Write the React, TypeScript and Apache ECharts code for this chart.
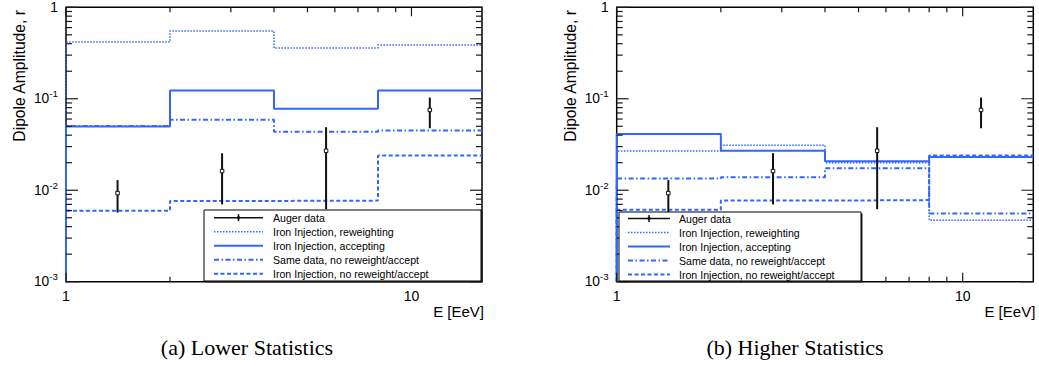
import React, { useEffect, useRef } from "react";
import * as echarts from "echarts";

// ---------- data ----------
const binEdges = [1, 2, 4, 8, 16];
const seriesNames = [
  "Auger data",
  "Iron Injection, reweighting",
  "Iron Injection, accepting",
  "Same data, no reweight/accept",
  "Iron Injection, no reweight/accept",
];

const augerEnergy = [1.41, 2.83, 5.66, 11.3];
const augerAmp = [0.0093, 0.0162, 0.027, 0.0755];
const augerLow = [0.0057, 0.007, 0.0062, 0.0476];
const augerHigh = [0.0129, 0.0254, 0.0489, 0.103];

// (a) Lower statistics
const lowReweight = [0.418, 0.55, 0.359, 0.387];
const lowAccept = [0.0496, 0.123, 0.078, 0.123];
const lowSameData = [0.0505, 0.059, 0.0437, 0.0449];
const lowNoReweight = [0.00598, 0.00764, 0.0077, 0.0239];

// (b) Higher statistics
const highReweight = [0.0269, 0.031, 0.02, 0.0047];
const highAccept = [0.0412, 0.0271, 0.0207, 0.0231];
const highSameData = [0.0134, 0.0139, 0.0174, 0.00555];
const highNoReweight = [0.0061, 0.0077, 0.0078, 0.0239];

// axis ranges / ticks
const X_MIN = 1;
const X_MAX = 16;
const Y_MIN = 0.001;
const Y_MAX = 1;
const xMajorTicks = [1, 10];
const xMinorTicks = [2, 3, 4, 5, 6, 7, 8, 9];
const yMajorTicks = [0.001, 0.01, 0.1, 1];
const yMinorTicks = [
  0.002, 0.003, 0.004, 0.005, 0.006, 0.007, 0.008, 0.009,
  0.02, 0.03, 0.04, 0.05, 0.06, 0.07, 0.08, 0.09,
  0.2, 0.3, 0.4, 0.5, 0.6, 0.7, 0.8, 0.9,
];
const xLabelValues = [1, 10];
const captions = ["(a) Lower Statistics", "(b) Higher Statistics"];
const yTitle = "Dipole Amplitude, r";
const xTitle = "E [EeV]";

// ---------- styles ----------
const BLUE = "#3366ff";
const TICK = "#1a1a1a";
const SANS = "'Liberation Sans', Arial, Helvetica, sans-serif";
const SERIF = "'Liberation Serif', 'DejaVu Serif', serif";

const histStyles: any[] = [
  { type: [1.5, 1.5], width: 1.5 },
  { type: "solid", width: 2 },
  { type: [5, 2.5, 1.5, 2.5], width: 2 },
  { type: [4, 2.5], width: 2 },
];

const panels = [
  {
    left: 66,
    width: 416,
    hist: [lowReweight, lowAccept, lowSameData, lowNoReweight],
    legend: { x: 204, y: 210, w: 277, h: 71, l0: 214, l1: 263, tx: 273, ry: 217.7 },
    yTitleX: 19,
    captionX: 247,
  },
  {
    left: 616.7,
    width: 416.6,
    hist: [highReweight, highAccept, highSameData, highNoReweight],
    legend: { x: 619, y: 212, w: 242, h: 69, l0: 628, l1: 670, tx: 679, ry: 218.5 },
    yTitleX: 570,
    captionX: 795,
  },
];
const GRID_TOP = 7.3;
const GRID_H = 274.4;

function stepData(values: number[]) {
  const pts: number[][] = [[binEdges[0], Y_MIN]];
  values.forEach((v, i) => pts.push([binEdges[i], v]));
  pts.push([binEdges[binEdges.length - 1], values[values.length - 1]]);
  return pts;
}

function buildOption() {
  const grid: any[] = [];
  const xAxis: any[] = [];
  const yAxis: any[] = [];
  const series: any[] = [];

  panels.forEach((p, gi) => {
    grid.push({
      left: p.left,
      top: GRID_TOP,
      width: p.width,
      height: GRID_H,
      show: true,
      borderColor: "#000",
      borderWidth: 1.5,
      backgroundColor: "#fff",
    });
    xAxis.push({
      type: "log",
      logBase: 10,
      gridIndex: gi,
      min: X_MIN,
      max: X_MAX,
      axisLine: { show: false },
      axisTick: { show: false },
      splitLine: { show: false },
      minorTick: { show: false },
      axisLabel: {
        show: true,
        margin: 7,
        fontSize: 14,
        fontFamily: SANS,
        color: "#000",
        formatter: (v: number) => {
          const hit = xLabelValues.find((t) => Math.abs(t - v) < 1e-6 * t);
          return hit !== undefined ? String(hit) : "";
        },
      },
    });
    yAxis.push({
      type: "log",
      logBase: 10,
      gridIndex: gi,
      min: Y_MIN,
      max: Y_MAX,
      axisLine: { show: false },
      axisTick: { show: false },
      splitLine: { show: false },
      minorTick: { show: false },
      axisLabel: {
        show: true,
        margin: 8,
        color: "#000",
        formatter: (v: number) => {
          const lg = Math.log10(v);
          const e = Math.round(lg);
          if (Math.abs(lg - e) > 1e-6) return "";
          if (e === 0) return "{m|1}";
          return "{m|10}{s|" + e + "}";
        },
        rich: {
          m: { fontSize: 13.8, fontFamily: SANS, color: "#000", lineHeight: 20 },
          s: { fontSize: 9.8, fontFamily: SANS, color: "#000", verticalAlign: "top" },
        },
      },
    });

    // histograms
    p.hist.forEach((vals, k) => {
      series.push({
        type: "line",
        name: seriesNames[k + 1],
        xAxisIndex: gi,
        yAxisIndex: gi,
        step: "end",
        symbol: "none",
        data: stepData(vals),
        lineStyle: { color: BLUE, width: histStyles[k].width, type: histStyles[k].type },
        z: 3,
      });
    });

    // Auger data with error bars
    series.push({
      type: "custom",
      name: seriesNames[0],
      xAxisIndex: gi,
      yAxisIndex: gi,
      encode: { x: 0, y: 1 },
      data: augerEnergy.map((e, i) => [e, augerAmp[i], augerLow[i], augerHigh[i]]),
      z: 5,
      renderItem: (params: any, api: any) => {
        const x = api.value(0);
        const c = api.coord([x, api.value(1)]);
        const lo = api.coord([x, api.value(2)]);
        const hi = api.coord([x, api.value(3)]);
        return {
          type: "group",
          children: [
            {
              type: "line",
              shape: { x1: lo[0], y1: lo[1], x2: hi[0], y2: hi[1] },
              style: { stroke: "#111", lineWidth: 2 },
            },
            {
              type: "rect",
              shape: { x: c[0] - 1.75, y: c[1] - 1.75, width: 3.5, height: 3.5 },
              style: { fill: "#fff", stroke: "#111", lineWidth: 1 },
            },
          ],
        };
      },
    });
  });

  return {
    animation: false,
    backgroundColor: "#fff",
    grid,
    xAxis,
    yAxis,
    series,
  };
}

function buildGraphic(chart: any) {
  const graphic: any[] = [];
  panels.forEach((p, gi) => {
    const px = (x: number, y: number) => chart.convertToPixel({ xAxisIndex: gi, yAxisIndex: gi }, [x, y]);
    const x0 = p.left;
    const x1 = p.left + p.width;
    const y0 = GRID_TOP;
    const y1 = GRID_TOP + GRID_H;
    // inside tick marks on all four sides (positions from the log scales)
    const yt: number[][] = [];
    yMajorTicks.forEach((v) => yt.push([v, 12]));
    yMinorTicks.forEach((v) => yt.push([v, 6]));
    for (let i = 0; i < yt.length; i++) {
      const v = yt[i][0];
      const len = yt[i][1];
      const yy = Number(px(3, v)[1]);
      graphic.push({
        type: "rect",
        z: 150,
        shape: { x: x0, y: yy - 0.6, width: len, height: 1.2 },
        style: { fill: TICK },
      });
      graphic.push({
        type: "rect",
        z: 150,
        shape: { x: x1 - len, y: yy - 0.6, width: len, height: 1.2 },
        style: { fill: TICK },
      });
    }
    const xt: number[][] = [];
    xMajorTicks.forEach((v) => xt.push([v, 9]));
    xMinorTicks.forEach((v) => xt.push([v, 5]));
    for (let i = 0; i < xt.length; i++) {
      const v = xt[i][0];
      const len = xt[i][1];
      const xx = Number(px(v, 0.03)[0]);
      graphic.push({
        type: "rect",
        z: 150,
        shape: { x: xx - 0.6, y: y1 - len, width: 1.2, height: len },
        style: { fill: TICK },
      });
      graphic.push({
        type: "rect",
        z: 150,
        shape: { x: xx - 0.6, y: y0, width: 1.2, height: len },
        style: { fill: TICK },
      });
    }

    // legend box
    const L = p.legend;
    graphic.push({
      type: "rect",
      z: 160,
      shape: { x: L.x + 1.5, y: L.y + 1.5, width: L.w, height: L.h },
      style: { fill: "#222" },
    });
    graphic.push({
      type: "rect",
      z: 161,
      shape: { x: L.x, y: L.y, width: L.w, height: L.h },
      style: { fill: "#fff", stroke: "#000", lineWidth: 1 },
    });
    seriesNames.forEach((name, i) => {
      const y = L.ry + i * 14;
      if (i === 0) {
        graphic.push({
          type: "line",
          z: 162,
          shape: { x1: L.l0, y1: y, x2: L.l1, y2: y },
          style: { stroke: "#111", lineWidth: 1.5 },
        });
        const mx = (L.l0 + L.l1) / 2;
        graphic.push({
          type: "line",
          z: 162,
          shape: { x1: mx, y1: y - 3.5, x2: mx, y2: y + 3.5 },
          style: { stroke: "#111", lineWidth: 1.5 },
        });
        graphic.push({
          type: "circle",
          z: 162,
          shape: { cx: mx, cy: y, r: 1.6 },
          style: { fill: "#111" },
        });
      } else {
        const hs = histStyles[i - 1];
        graphic.push({
          type: "line",
          z: 162,
          shape: { x1: L.l0, y1: y, x2: L.l1, y2: y },
          style: {
            stroke: BLUE,
            lineWidth: hs.width,
            lineDash: Array.isArray(hs.type) ? hs.type : null,
          },
        });
      }
      graphic.push({
        type: "text",
        z: 162,
        x: L.tx,
        y: y,
        style: {
          text: name,
          fontSize: 10.6,
          fontFamily: SANS,
          fill: "#000",
          align: "left",
          verticalAlign: "middle",
        },
      });
    });

    // axis titles
    graphic.push({
      type: "text",
      z: 50,
      x: p.yTitleX,
      y: 10,
      rotation: Math.PI / 2,
      style: {
        text: yTitle,
        fontSize: 15.7,
        fontFamily: SANS,
        fill: "#000",
        align: "right",
        verticalAlign: "middle",
      },
    });
    graphic.push({
      type: "text",
      z: 50,
      x: p.left + p.width + 2,
      y: 311,
      style: {
        text: xTitle,
        fontSize: 15,
        fontFamily: SANS,
        fill: "#000",
        align: "right",
        verticalAlign: "middle",
      },
    });
    // caption
    graphic.push({
      type: "text",
      z: 50,
      x: p.captionX,
      y: 347,
      style: {
        text: captions[gi],
        fontSize: 22,
        fontFamily: SERIF,
        fill: "#000",
        align: "center",
        verticalAlign: "middle",
      },
    });
  });
  return graphic;
}

export default function App() {
  const ref = useRef<HTMLDivElement>(null);
  useEffect(() => {
    if (!ref.current) return;
    const chart = echarts.init(ref.current, null, { renderer: "svg" });
    chart.setOption(buildOption() as any);
    chart.setOption({ graphic: buildGraphic(chart) } as any);
    return () => chart.dispose();
  }, []);
  return (
    <div
      ref={ref}
      style={{ position: "absolute", left: 0, top: 0, width: 1039, height: 372, background: "#fff" }}
    />
  );
}
